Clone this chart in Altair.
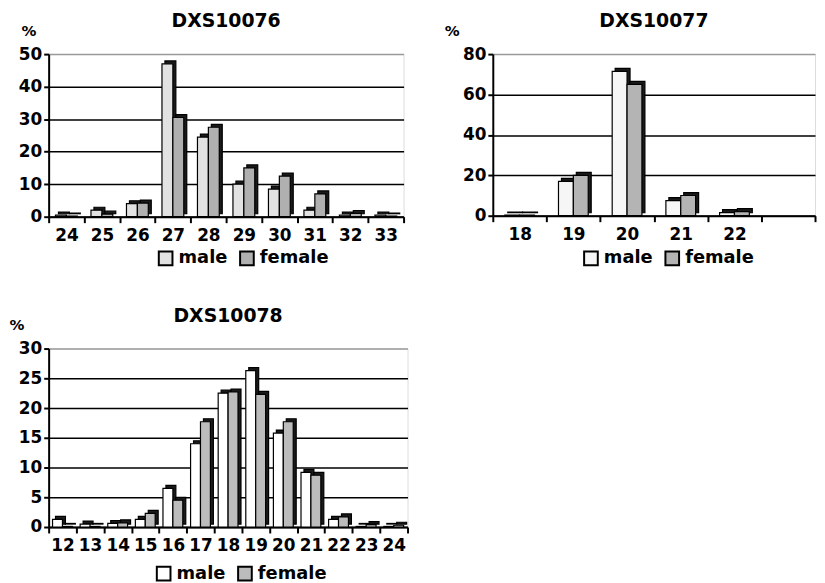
import altair as alt
import pandas as pd

FONT = "DejaVu Sans"

# ---- data ----
alleles_76 = ["24", "25", "26", "27", "28", "29", "30", "31", "32", "33"]
male_76 = [0.5, 2.0, 4.0, 47.0, 24.5, 10.0, 8.5, 2.0, 0.5, 0.5]
female_76 = [0.2, 0.8, 4.2, 30.5, 27.5, 15.0, 12.5, 7.0, 1.0, 0.2]

alleles_77 = ["18", "19", "20", "21", "22"]
male_77 = [0.3, 17.0, 71.5, 7.5, 1.5]
female_77 = [0.3, 20.0, 65.0, 10.0, 2.0]

alleles_78 = ["12", "13", "14", "15", "16", "17", "18", "19", "20", "21", "22", "23", "24"]
male_78 = [1.3, 0.5, 0.6, 1.3, 6.5, 14.0, 22.5, 26.3, 15.8, 9.2, 1.3, 0.1, 0.1]
female_78 = [0.1, 0.1, 0.7, 2.3, 4.5, 17.7, 22.7, 22.3, 17.7, 8.7, 1.7, 0.4, 0.3]

sexes = ["male", "female"]


def make_df(alleles, male, female):
    rows = []
    for a, m, f in zip(alleles, male, female):
        rows.append({"allele": a, "sex": "male", "value": m})
        rows.append({"allele": a, "sex": "female", "value": f})
    return pd.DataFrame(rows)


def panel(title, alleles, male, female, domain, ymax, ystep, w, h, colors,
          barw, legx, legy, pct_x, depth=3):
    df = make_df(alleles, male, female)
    x = alt.X(
        "allele:N",
        scale=alt.Scale(domain=domain, paddingInner=0, paddingOuter=0),
        axis=alt.Axis(
            title=None, labelAngle=0, tickBand="extent",
            labelFont=FONT, labelFontWeight="bold", labelFontSize=17,
            labelColor="black", domainColor="black", domainWidth=2,
            tickColor="black", tickWidth=2, tickSize=6, labelPadding=5,
        ),
    )
    y = alt.Y(
        "value:Q",
        scale=alt.Scale(domain=[0, ymax], nice=False),
        axis=alt.Axis(
            title="%", titleAngle=0, titleX=pct_x, titleY=-19, titleAlign="left",
            titleBaseline="alphabetic",
            titleFont=FONT, titleFontWeight="bold", titleFontSize=15,
            titleColor="black",
            values=list(range(0, ymax + 1, ystep)),
            grid=True,
            gridColor={"condition": {"test": f"datum.value >= {ymax}", "value": "#9a9a9a"},
                       "value": "black"},
            gridWidth=1.5,
            labelFont=FONT, labelFontWeight="bold", labelFontSize=17,
            labelColor="black", domainColor="black", domainWidth=2,
            tickColor="black", tickWidth=2, tickSize=5, labelPadding=2,
        ),
    )
    fill = alt.Fill(
        "sex:N",
        scale=alt.Scale(domain=sexes, range=colors),
        legend=alt.Legend(
            orient="none", legendX=legx, legendY=legy, direction="horizontal",
            title=None, symbolType="square", symbolSize=190,
            symbolStrokeColor="black", symbolStrokeWidth=2,
            labelFont=FONT, labelFontSize=18, labelFontWeight="bold",
            labelColor="black", columnPadding=8, labelOffset=4,
        ),
    )
    base = alt.Chart(df)
    layers = []
    for sex, off in (("male", -barw / 2), ("female", barw / 2)):
        layers.append(
            base.transform_filter(alt.datum.sex == sex).mark_bar(
                width=barw, fill="#1a1a1a", stroke="black", strokeWidth=1.2,
                xOffset=off + depth, yOffset=-depth, y2Offset=-depth,
            ).encode(x=x, y=y)
        )
    for sex, off in (("male", -barw / 2), ("female", barw / 2)):
        layers.append(
            base.transform_filter(alt.datum.sex == sex).mark_bar(
                width=barw, stroke="black", strokeWidth=1.2, xOffset=off,
            ).encode(x=x, y=y, fill=fill)
        )
    return alt.layer(*layers).properties(
        width=w, height=h,
        title=alt.TitleParams(title, font=FONT, fontSize=19, fontWeight="bold",
                              color="black", offset=-8, anchor="middle"),
    )


p1 = panel("DXS10076", alleles_76, male_76, female_76, alleles_76, 50, 10,
           358, 164, ["#e2e2e2", "#b0b0b0"], 11, 109, 197, -28)
p2 = panel("DXS10077", alleles_77, male_77, female_77, alleles_77 + [" "], 80, 20,
           325, 163, ["#f6f6f6", "#b4b4b4"], 15, 90, 197, -49)
p3 = panel("DXS10078", alleles_78, male_78, female_78, alleles_78, 30, 5,
           362, 180, ["#ffffff", "#bcbcbc"], 10, 107, 218, -40)

row1 = alt.hconcat(p1, p2, spacing=38).resolve_scale(fill="independent")
chart = alt.vconcat(row1, p3, spacing=36).resolve_scale(fill="independent").properties(
    padding={"left": 0, "top": 1, "right": 0, "bottom": 0}
).configure_view(stroke="#9a9a9a", strokeWidth=1.5).configure(background="white")

chart.save("out.html", embed_options={"renderer": "svg", "actions": False})
